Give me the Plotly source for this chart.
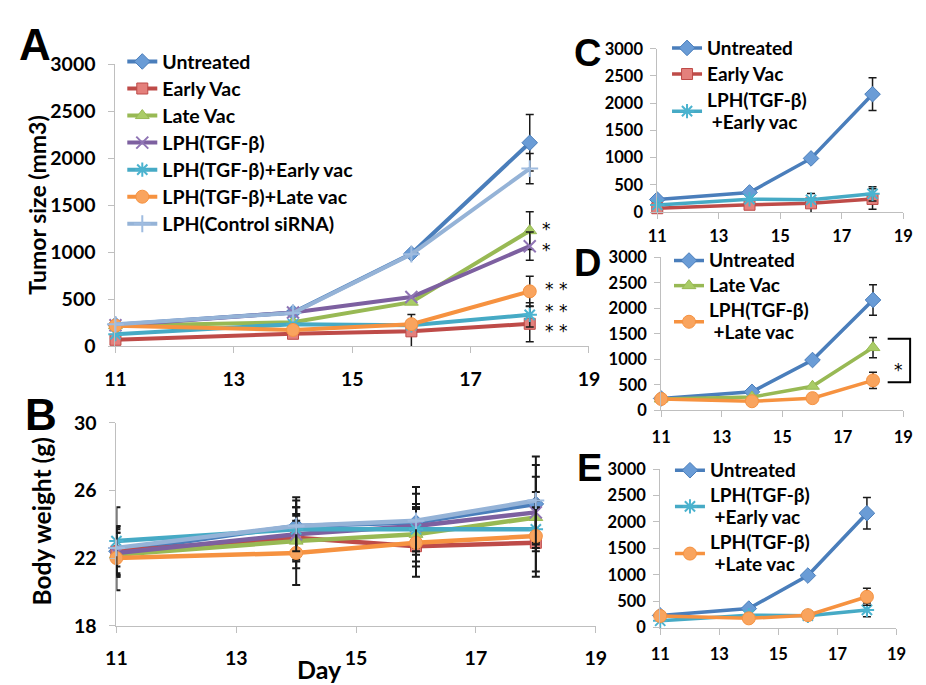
import plotly.graph_objects as go

W, H = 926, 685

# ---------------- data ----------------
days = [11, 14, 16, 18]
x_ticks = [11, 13, 15, 17, 19]
tumor_ticks = [0, 500, 1000, 1500, 2000, 2500, 3000]
weight_ticks = [18, 22, 26, 30]

names = ["Untreated", "Early Vac", "Late Vac", "LPH(TGF-β)",
         "LPH(TGF-β)+Early vac", "LPH(TGF-β)+Late vac", "LPH(Control siRNA)"]

# tumor size (mm3)
tumor_untreated = [230, 360, 985, 2165]
tumor_early_vac = [70, 134, 160, 240]
tumor_late_vac = [220, 257, 470, 1230]
tumor_lph = [225, 360, 525, 1065]
tumor_lph_early = [130, 236, 225, 335]
tumor_lph_late = [220, 175, 236, 585]
tumor_lph_ctrl = [235, 355, 980, 1890]

# tumor size error (None = no bar)
terr_untreated = [None, None, None, 300]
terr_early_vac = [None, None, 180, 190]
terr_late_vac = [None, None, None, 200]
terr_lph = [None, None, None, 150]
terr_lph_early = [None, None, None, 130]
terr_lph_late = [None, None, None, 160]
terr_lph_ctrl = [None, None, None, 160]

# body weight (g)
bw_untreated = [22.4, 23.9, 24.1, 25.2]
bw_early_vac = [22.4, 23.2, 22.7, 22.9]
bw_late_vac = [22.2, 23.0, 23.4, 24.4]
bw_lph = [22.3, 23.4, 23.9, 24.7]
bw_lph_early = [23.0, 23.7, 23.7, 23.7]
bw_lph_late = [22.0, 22.3, 22.9, 23.3]
bw_lph_ctrl = [22.6, 23.9, 24.2, 25.4]

bwerr_untreated = [1.4, 1.7, 1.7, 2.3]
bwerr_early_vac = [1.5, 1.3, 1.2, 2.0]
bwerr_late_vac = [1.3, 1.6, 1.6, 1.5]
bwerr_lph = [1.2, 1.6, 1.3, 2.1]
bwerr_lph_early = [2.0, 1.3, 1.3, 1.3]
bwerr_lph_late = [1.9, 1.9, 2.0, 2.1]
bwerr_lph_ctrl = [1.1, 1.5, 2.0, 2.6]

tumor = [tumor_untreated, tumor_early_vac, tumor_late_vac, tumor_lph,
         tumor_lph_early, tumor_lph_late, tumor_lph_ctrl]
terr = [terr_untreated, terr_early_vac, terr_late_vac, terr_lph,
        terr_lph_early, terr_lph_late, terr_lph_ctrl]
bw = [bw_untreated, bw_early_vac, bw_late_vac, bw_lph,
      bw_lph_early, bw_lph_late, bw_lph_ctrl]
bwerr = [bwerr_untreated, bwerr_early_vac, bwerr_late_vac, bwerr_lph,
         bwerr_lph_early, bwerr_lph_late, bwerr_lph_ctrl]

# ---------------- styles ----------------
styles = [
    dict(line="#4A7EBB", sym="diamond", fill="#6A9CD6", size=12),
    dict(line="#BE4B48", sym="square", fill="#E4807C", size=11),
    dict(line="#98B954", sym="triangle-up", fill="#A9CC66", size=12),
    dict(line="#7D60A0", sym="x-thin-open", fill="#8F74B4", size=12),
    dict(line="#46AAC5", sym="asterisk-open", fill="#4BB3CF", size=12),
    dict(line="#F69240", sym="circle", fill="#F9A45E", size=13),
    dict(line="#95B3D7", sym="cross-thin-open", fill="#9FBCE0", size=12),
]


def px(x):
    return x / W


def py(y):
    return 1 - y / H


fig = go.Figure()

ERRC = "#1a1a1a"


def add_series(i, xa, ya, values, errs, lw, legend, showlegend, label=None,
               errw=1.5, group=None):
    st = styles[i]
    ex = [d for d, e in zip(days, errs) if e is not None]
    ey = [v for v, e in zip(values, errs) if e is not None]
    ee = [e for e in errs if e is not None]
    if ex:
        fig.add_trace(go.Scatter(
            x=ex, y=ey, mode="markers", xaxis=xa, yaxis=ya,
            marker=dict(size=1, color="rgba(0,0,0,0)"),
            error_y=dict(type="data", array=ee, color=ERRC, thickness=errw, width=4),
            showlegend=False, hoverinfo="skip", cliponaxis=False))
    open_sym = st["sym"].endswith("open")
    marker = dict(symbol=st["sym"], size=st["size"], color=st["fill"],
                  line=dict(color=st["fill"] if open_sym else st["line"],
                            width=2 if open_sym else 1))
    kw = {}
    if group is not None:
        kw["legendgroup"] = group
    fig.add_trace(go.Scatter(
        x=days, y=values, mode="lines+markers", xaxis=xa, yaxis=ya,
        name=label if label else names[i],
        line=dict(color=st["line"], width=lw),
        marker=marker, legend=legend, showlegend=showlegend,
        cliponaxis=False, **kw))


def big(s, size=19):
    return '<span style="font-size:%gpx">' % size + s + '</span>'


# Panel A
for i in range(7):
    add_series(i, "x", "y", tumor[i], terr[i], 4, "legend", True, big(names[i], 19.5))

# Panel B
for i in range(7):
    add_series(i, "x2", "y2", bw[i], bwerr[i], 4.5, "legend", False, errw=2)

# Panel C
c_sel = [0, 1, 4]
c_lab = {0: big("Untreated"), 1: big("Early Vac"),
         4: big("LPH(TGF-β)") + "<br>" + big("\u00a0+Early vac")}
for i in c_sel:
    add_series(i, "x3", "y3", tumor[i], terr[i], 3.5, "legend2", True, c_lab[i],
               group="c%d" % i)

# Panel D
d_sel = [0, 2, 5]
d_lab = {0: big("Untreated"), 2: big("Late Vac"),
         5: big("LPH(TGF-β)") + "<br>" + big("\u00a0+Late vac")}
for i in d_sel:
    add_series(i, "x4", "y4", tumor[i], terr[i], 3.5, "legend3", True, d_lab[i],
               group="d%d" % i)

# Panel E
e_sel = [0, 4, 5]
e_lab = {0: big("Untreated"),
         4: big("LPH(TGF-β)") + "<br>" + big("\u00a0+Early vac"),
         5: big("LPH(TGF-β)") + "<br>" + big("\u00a0+Late vac")}
for i in e_sel:
    add_series(i, "x5", "y5", tumor[i], terr[i], 3.5, "legend4", True, e_lab[i],
               group="e%d" % i)

FONT = "Lato"
AXC = "#BFBFBF"


def xaxis(dom, anchor, size, standoff):
    return dict(domain=dom, anchor=anchor, range=[11, 19], tickvals=x_ticks,
                showline=True, linecolor=AXC, linewidth=1, ticks="outside",
                ticklen=6, tickcolor=AXC, showgrid=False, zeroline=False,
                tickfont=dict(family=FONT, size=size, color="black", weight="bold"),
                ticklabelstandoff=standoff, fixedrange=True)


def yaxis(dom, anchor, rng, tv, size, standoff):
    return dict(domain=dom, anchor=anchor, range=rng, tickvals=tv,
                showline=True, linecolor=AXC, linewidth=1, ticks="outside",
                ticklen=6, tickcolor=AXC, showgrid=False, zeroline=False,
                tickfont=dict(family=FONT, size=size, color="black", weight="bold"),
                ticklabelstandoff=standoff, fixedrange=True)


LEGA = dict(family=FONT, size=18.5, color="black", weight="bold")
LEGR = dict(family=FONT, size=17, color="black", weight="bold")

fig.update_layout(
    width=W, height=H, margin=dict(l=0, r=0, t=0, b=0),
    paper_bgcolor="white", plot_bgcolor="white",
    xaxis=xaxis([px(107), px(592)], "y", 19.5, 9),
    yaxis=yaxis([py(346), py(54)], "x", [0, 3000], tumor_ticks, 19.5, 9),
    xaxis2=xaxis([px(108), px(599)], "y2", 19.5, 9),
    yaxis2=yaxis([py(635), py(425)], "x2", [18, 30], weight_ticks, 19.5, 9),
    xaxis3=xaxis([px(662), px(914)], "y3", 16.5, 3),
    yaxis3=yaxis([py(207), py(38)], "x3", [0, 3000], tumor_ticks, 16.5, 4),
    xaxis4=xaxis([px(666), px(914)], "y4", 16.5, 6),
    yaxis4=yaxis([py(412), py(254)], "x4", [0, 3000], tumor_ticks, 16.5, 4),
    xaxis5=xaxis([px(665), px(907)], "y5", 16.5, 6),
    yaxis5=yaxis([py(637), py(473)], "x5", [0, 3000], tumor_ticks, 16.5, 4),
    legend=dict(x=px(114), y=py(32), xanchor="left", yanchor="top",
                font=LEGA, bgcolor="rgba(0,0,0,0)"),
    legend2=dict(x=px(672), y=py(19), xanchor="left", yanchor="top",
                 font=LEGR, bgcolor="rgba(0,0,0,0)", tracegroupgap=1,
                 traceorder="grouped"),
    legend3=dict(x=px(674), y=py(239), xanchor="left", yanchor="top",
                 font=LEGR, bgcolor="rgba(0,0,0,0)", tracegroupgap=0,
                 traceorder="grouped"),
    legend4=dict(x=px(675), y=py(456), xanchor="left", yanchor="top",
                 font=LEGR, bgcolor="rgba(0,0,0,0)", tracegroupgap=0,
                 traceorder="grouped"),
    showlegend=True,
)

ann = []


def text(x, y, s, size, family=FONT, angle=0, weight="bold"):
    ann.append(dict(x=px(x), y=py(y), xref="paper", yref="paper", text=s,
                    showarrow=False, textangle=angle, xanchor="center", yanchor="middle",
                    font=dict(family=family, size=size, color="black", weight=weight)))


# panel letters
text(25, 34, "A", 44, "Liberation Sans")
text(31, 417, "B", 44, "Liberation Sans")
text(591, 42, "C", 38, "Liberation Sans")
text(591, 260, "D", 38, "Liberation Sans")
text(593, 472, "E", 38, "Liberation Sans")

# axis titles
text(27, 200, "Tumor size (mm3)", 23, angle=-90)
text(31, 527, "Body weight (g)", 24.5, angle=-90)
text(316, 680, "Day", 25)

# significance marks
STAR = "DejaVu Sans"
for (x, y, s) in [(549, 225, "*"), (549, 246, "*"), (558, 287, "* *"),
                  (558, 309, "* *"), (558, 330, "* *"), (909, 370, "*")]:
    text(x, y, s, 17, STAR, weight="normal")

fig.update_layout(annotations=ann)

# bracket in panel D
fig.add_shape(type="path", xref="paper", yref="paper",
              path=f"M {px(898)} {py(338)} L {px(921)} {py(338)} L {px(921)} {py(383)} L {px(898)} {py(383)}",
              line=dict(color="black", width=2))

fig.write_html("out.html", config={"displayModeBar": False},
               post_script="document.body.style.margin='0px';document.body.style.overflow='hidden';")
